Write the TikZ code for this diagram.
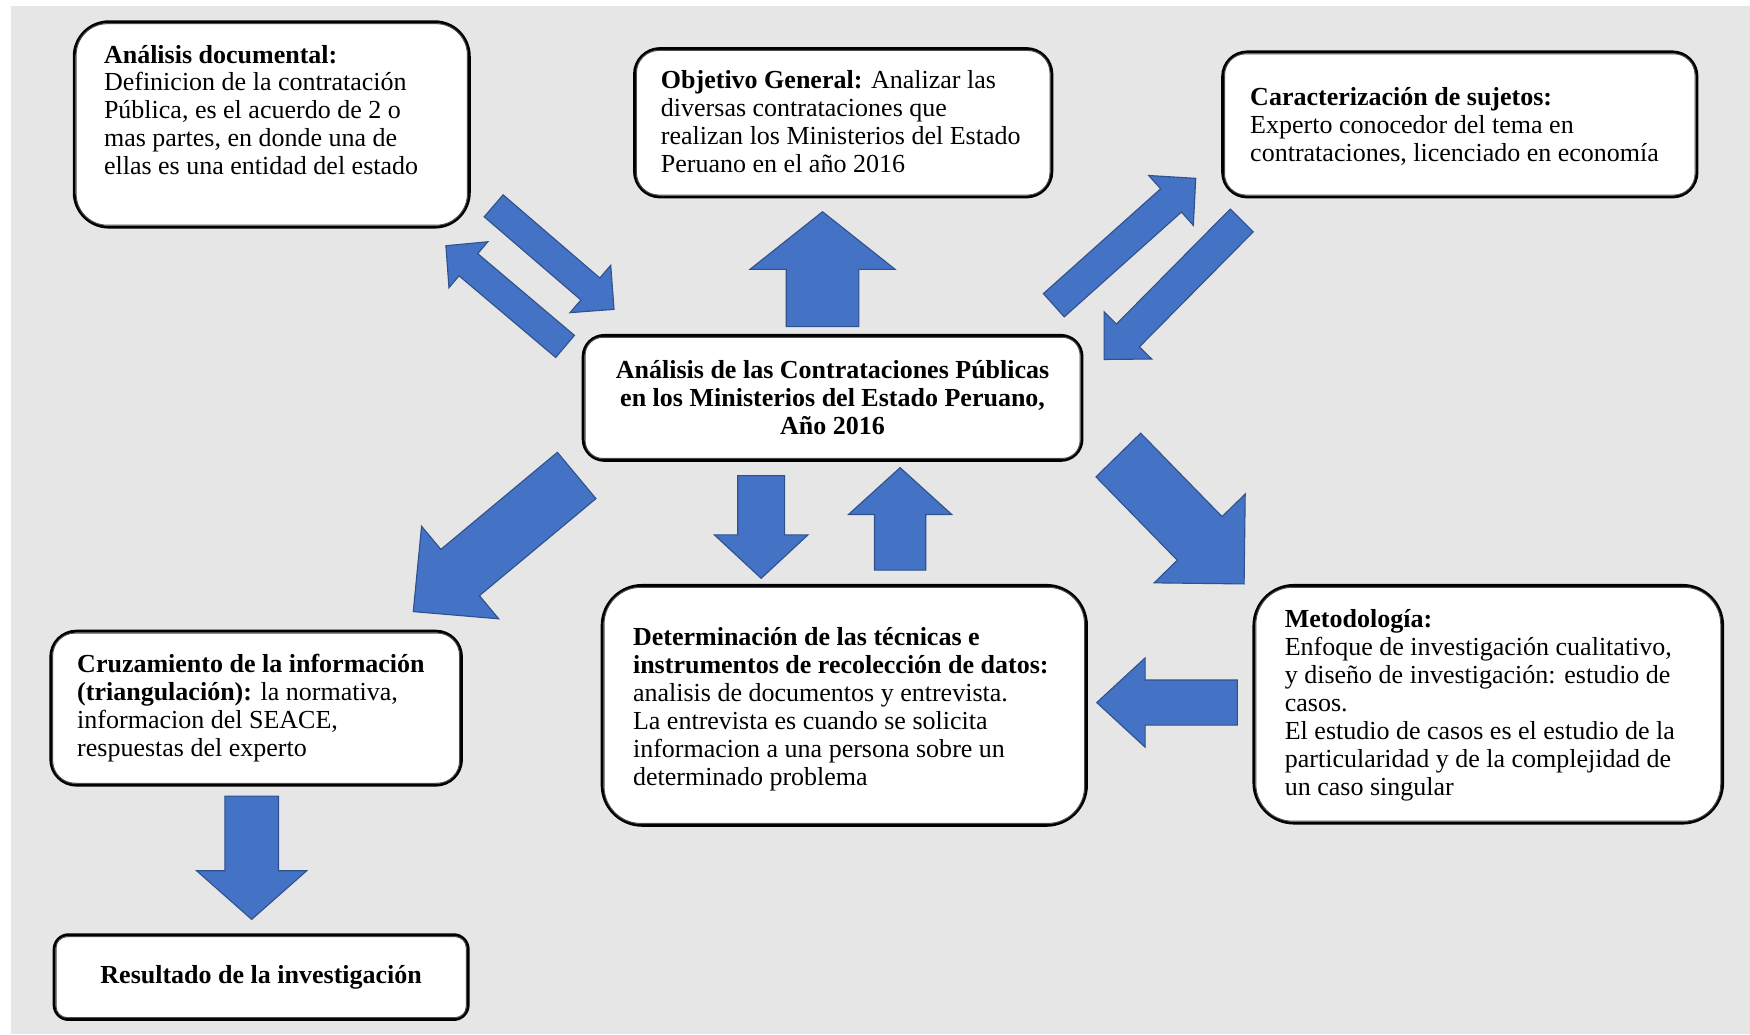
\documentclass[tikz,border=0pt]{standalone}
\usepackage{fontspec}
\setmainfont{Liberation Serif}
\definecolor{azul}{HTML}{4472C4}
\definecolor{azulborde}{HTML}{2F528F}
\definecolor{fondo}{HTML}{E6E6E6}
\newcommand{\letra}{\fontsize{23.3}{25}\selectfont}
\newcommand{\lineas}[1]{\parbox[t]{400pt}{#1}}
% tail, angle, length, shaft half width, head half width, head length
\newcommand{\flecha}[6]{\filldraw[flecha,shift={(#1)},rotate=#2] (0,-#4)--(#3-#6,-#4)--(#3-#6,-#5)--(#3,0)--(#3-#6,#5)--(#3-#6,#4)--(0,#4)--cycle;}
\begin{document}
\begin{tikzpicture}[x=1pt,y=-1pt,font=\letra,
	caja/.style={draw,line width=2.6pt,fill=white,inner sep=0pt},
	interior/.style={line width=0.9pt,draw=black!70},
	texto/.style={anchor=base west,inner sep=0pt},
	flecha/.style={fill=azul,draw=azulborde,line width=1pt,line join=miter}]
	\useasboundingbox (0,0) rectangle (1568,926.5);
	\fill[fondo] (10,5) rectangle (1568,926.5);
	% cajas
	\node[caja,minimum width=354,minimum height=184,rounded corners=31pt] (analisis) at (243.5,111.5) {};
	\node[caja,minimum width=374,minimum height=133,rounded corners=23pt] (objetivo) at (755.5,110) {};
	\node[caja,minimum width=425,minimum height=130,rounded corners=22pt] (sujetos) at (1308,111.5) {};
	\node[caja,minimum width=447,minimum height=112,rounded corners=19pt,align=center,font=\letra\bfseries] (central) at (746,356.5) {Análisis de las Contrataciones Públicas\\en los Ministerios del Estado Peruano,\\Año 2016};
	\node[caja,minimum width=368,minimum height=138,rounded corners=23pt] (cruzamiento) at (229.5,634.5) {};
	\node[caja,minimum width=434,minimum height=215,rounded corners=36pt] (tecnicas) at (756.5,632) {};
	\node[caja,minimum width=420,minimum height=213,rounded corners=36pt] (metodologia) at (1333.5,631) {};
	\node[caja,minimum width=371,minimum height=76,rounded corners=13pt,font=\letra\bfseries] (resultado) at (234,875.5) {Resultado de la investigación};
	\foreach \n/\r in {analisis/28,objetivo/20,sujetos/19,central/16,cruzamiento/20,tecnicas/33,metodologia/33,resultado/10}
		\draw[interior,rounded corners=\r pt] ([shift={(3,3)}]\n.north west) rectangle ([shift={(-3,-3)}]\n.south east);
	% textos
	\node[texto] (t-analisis) at (93,56.5) {\lineas{\textbf{Análisis documental:}\\Definicion de la contratación\\Pública, es el acuerdo de 2 o\\mas partes, en donde una de\\ellas es una entidad del estado}};
	\node[texto] (t-objetivo) at (592,79.5) {\lineas{\textbf{Objetivo General:} Analizar las\\diversas contrataciones que\\realizan los Ministerios del Estado\\Peruano en el año 2016}};
	\node[texto] (t-sujetos) at (1120,94.5) {\lineas{\textbf{Caracterización de sujetos:}\\Experto conocedor del tema en\\contrataciones, licenciado en economía}};
	\node[texto] (t-cruzamiento) at (69,602.5) {\lineas{\textbf{Cruzamiento de la información}\\\textbf{(triangulación):} la normativa,\\informacion del SEACE,\\respuestas del experto}};
	\node[texto] (t-tecnicas) at (567,578.5) {\lineas{\textbf{Determinación de las técnicas e}\\\textbf{instrumentos de recolección de datos:}\\analisis de documentos y entrevista.\\La entrevista es cuando se solicita\\informacion a una persona sobre un\\determinado problema}};
	\node[texto] (t-metodologia) at (1151,562.5) {\lineas{\textbf{Metodología:}\\Enfoque de investigación cualitativo,\\y diseño de investigación: estudio de\\casos.\\El estudio de casos es el estudio de la\\particularidad y de la complejidad de\\un caso singular}};
	% flechas
	\flecha{737,292.7}{90}{103}{32.5}{65}{51.6}
	\flecha{682,426.2}{-90}{92}{21}{42}{39}
	\flecha{806.5,510.8}{90}{91.8}{23}{46.3}{42}
	\flecha{442.3,184.4}{-40.7}{142.3}{13}{28}{28}
	\flecha{506.3,310.4}{139.8}{139.8}{13}{27}{26.4}
	\flecha{944.2,273.5}{41.8}{170.6}{14}{30}{29.7}
	\flecha{1112.6,197.5}{-134.7}{175.3}{14.5}{30}{30.3}
	\flecha{1002,407.7}{-45.7}{161.4}{28}{57}{57}
	\flecha{516.7,426}{-140.2}{190.6}{27}{54}{54.7}
	\flecha{1108.7,629.5}{180}{126}{20.2}{40}{43.3}
	\flecha{225.5,713.3}{-90}{110.5}{24}{49.3}{43.6}
\end{tikzpicture}
\end{document}
